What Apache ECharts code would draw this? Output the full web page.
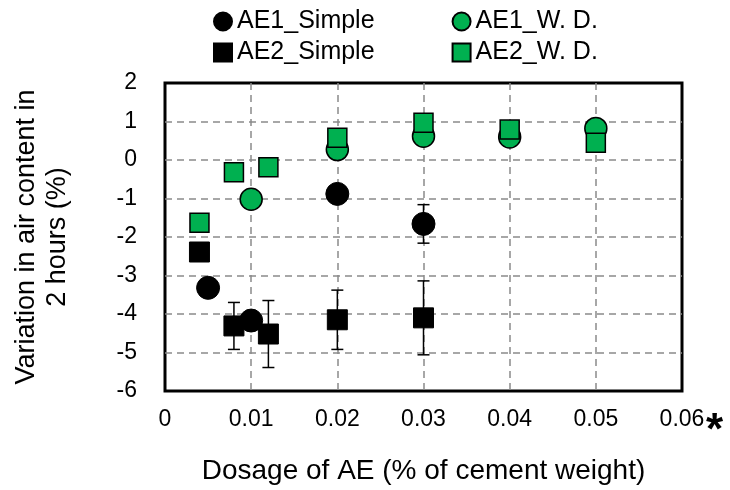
<!DOCTYPE html>
<html>
<head>
<meta charset="utf-8">
<script src="https://cdn.jsdelivr.net/npm/echarts@6/dist/echarts.min.js"></script>
<style>
  html, body { margin: 0; padding: 0; background: #fff; }
  #chart { width: 730px; height: 490px; }
</style>
</head>
<body>
<div id="chart"></div>
<script>
// dosage (% of cement weight) and variation in air content (%)
var ae1SimpleX = [0.005, 0.01, 0.02, 0.03];
var ae1SimpleY = [-3.32, -4.17, -0.88, -1.66];
var ae1SimpleErr = [0, 0, 0, 0.5];

var ae2SimpleX = [0.004, 0.008, 0.012, 0.02, 0.03];
var ae2SimpleY = [-2.39, -4.31, -4.52, -4.15, -4.1];
var ae2SimpleErr = [0, 0.61, 0.87, 0.77, 0.96];

var ae1WdX = [0.01, 0.02, 0.03, 0.04, 0.05];
var ae1WdY = [-1.02, 0.27, 0.62, 0.6, 0.82];

var ae2WdX = [0.004, 0.008, 0.012, 0.02, 0.03, 0.04, 0.05];
var ae2WdY = [-1.63, -0.32, -0.19, 0.58, 0.97, 0.79, 0.45];

var seriesNames = ['AE1_Simple', 'AE1_W. D.', 'AE2_Simple', 'AE2_W. D.'];

var FONT = '"Liberation Sans", Arial, sans-serif';
var GREEN = '#00b050';

function pairs(xs, ys) {
    var out = [];
    for (var i = 0; i < xs.length; i++) out.push([xs[i], ys[i]]);
    return out;
}

function errData(xs, ys, es) {
    var out = [];
    for (var i = 0; i < xs.length; i++) {
        if (es[i] > 0) out.push([xs[i], ys[i] - es[i], ys[i] + es[i]]);
    }
    return out;
}

function renderErr(params, api) {
    var x = api.value(0);
    var lo = api.coord([x, api.value(1)]);
    var hi = api.coord([x, api.value(2)]);
    var cap = 6;
    var st = { stroke: '#000', lineWidth: 1.5 };
    return {
        type: 'group',
        children: [
            { type: 'line', shape: { x1: lo[0], y1: lo[1], x2: hi[0], y2: hi[1] }, style: st },
            { type: 'line', shape: { x1: lo[0] - cap, y1: lo[1], x2: lo[0] + cap, y2: lo[1] }, style: st },
            { type: 'line', shape: { x1: hi[0] - cap, y1: hi[1], x2: hi[0] + cap, y2: hi[1] }, style: st }
        ]
    };
}

var myChart = echarts.init(document.getElementById('chart'));

var legendText = { fontFamily: FONT, fontSize: 25, color: '#000' };
var gridLine = { show: true, showMinLine: false, showMaxLine: false,
                 lineStyle: { color: '#8a8a8a', width: 1.5, type: [7, 5] } };

var option = {
    animation: false,
    backgroundColor: '#fff',
    legend: [
        {
            data: [seriesNames[0], seriesNames[1]],
            left: 213, top: 9, padding: 0,
            itemWidth: 18, itemHeight: 18, itemGap: 77,
            textStyle: legendText
        },
        {
            data: [seriesNames[2], seriesNames[3]],
            left: 213, top: 40, padding: 0,
            itemWidth: 18, itemHeight: 18, itemGap: 77,
            textStyle: legendText
        }
    ],
    grid: {
        left: 165, right: 48, top: 83, bottom: 97,
        show: true,
        borderColor: '#000',
        borderWidth: 3
    },
    xAxis: {
        type: 'value',
        min: 0, max: 0.06, interval: 0.01,
        name: 'Dosage of AE (% of cement weight)',
        nameLocation: 'middle',
        nameGap: 66,
        nameTextStyle: { fontFamily: FONT, fontSize: 28, color: '#000' },
        axisLine: { show: false },
        axisTick: { show: false },
        axisLabel: {
            margin: 17,
            fontFamily: FONT, fontSize: 23, color: '#000',
            formatter: function (v) { return v === 0 ? '0' : v.toFixed(2); }
        },
        splitLine: gridLine
    },
    yAxis: {
        type: 'value',
        min: -6, max: 2, interval: 1,
        name: 'Variation in air content in\n2 hours (%)',
        nameLocation: 'middle',
        nameGap: 92,
        nameTextStyle: { fontFamily: FONT, fontSize: 27, color: '#000', lineHeight: 31 },
        axisLine: { show: false },
        axisTick: { show: false },
        axisLabel: { margin: 28, fontFamily: FONT, fontSize: 23, color: '#000' },
        splitLine: gridLine
    },
    graphic: [
        {
            type: 'text',
            left: 706, top: 410,
            style: { text: '*', fontFamily: FONT, fontSize: 44, fontWeight: 'bold', fill: '#000' }
        }
    ],
    series: [
        {
            name: 'AE1_Simple err', type: 'custom', renderItem: renderErr,
            data: errData(ae1SimpleX, ae1SimpleY, ae1SimpleErr), z: 2
        },
        {
            name: 'AE2_Simple err', type: 'custom', renderItem: renderErr,
            data: errData(ae2SimpleX, ae2SimpleY, ae2SimpleErr), z: 2
        },
        {
            name: seriesNames[0], type: 'scatter', symbol: 'circle', symbolSize: 23,
            itemStyle: { color: '#000', borderColor: '#000', borderWidth: 1, opacity: 1 },
            data: pairs(ae1SimpleX, ae1SimpleY), z: 3
        },
        {
            name: seriesNames[2], type: 'scatter', symbol: 'rect', symbolSize: 20,
            itemStyle: { color: '#000', borderColor: '#000', borderWidth: 1, opacity: 1 },
            data: pairs(ae2SimpleX, ae2SimpleY), z: 3
        },
        {
            name: seriesNames[1], type: 'scatter', symbol: 'circle', symbolSize: 22,
            itemStyle: { color: GREEN, borderColor: '#000', borderWidth: 1.5, opacity: 1 },
            data: pairs(ae1WdX, ae1WdY), z: 3
        },
        {
            name: seriesNames[3], type: 'scatter', symbol: 'rect', symbolSize: 19,
            itemStyle: { color: GREEN, borderColor: '#000', borderWidth: 1.5, opacity: 1 },
            data: pairs(ae2WdX, ae2WdY), z: 4
        }
    ]
};

option && myChart.setOption(option);

window.onresize = function () {
    myChart.resize();
};
</script>
</body>
</html>
